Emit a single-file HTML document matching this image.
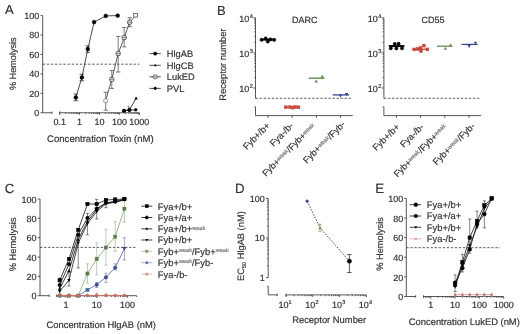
<!DOCTYPE html>
<html><head><meta charset="utf-8"><style>
html,body{margin:0;padding:0;background:#fff;}
svg{display:block;will-change:transform;filter:blur(0.35px);}
text{font-family:"Liberation Sans", sans-serif;text-rendering:geometricPrecision;stroke:#333;stroke-width:0.18px;}
</style></head><body>
<svg width="520" height="334" viewBox="0 0 520 334" font-family='"Liberation Sans", sans-serif'>
<rect width="520" height="334" fill="#fff"/>
<text x="5.00" y="14.30" font-size="13" text-anchor="start" fill="#333">A</text>
<line x1="42.70" y1="15.60" x2="42.70" y2="112.75" stroke="#444" stroke-width="0.9"/>
<line x1="40.50" y1="112.75" x2="42.70" y2="112.75" stroke="#444" stroke-width="0.9"/>
<text x="39.20" y="115.95" font-size="9" text-anchor="end" fill="#333">0</text>
<line x1="40.50" y1="93.32" x2="42.70" y2="93.32" stroke="#444" stroke-width="0.9"/>
<text x="39.20" y="96.52" font-size="9" text-anchor="end" fill="#333">20</text>
<line x1="40.50" y1="73.89" x2="42.70" y2="73.89" stroke="#444" stroke-width="0.9"/>
<text x="39.20" y="77.09" font-size="9" text-anchor="end" fill="#333">40</text>
<line x1="40.50" y1="54.46" x2="42.70" y2="54.46" stroke="#444" stroke-width="0.9"/>
<text x="39.20" y="57.66" font-size="9" text-anchor="end" fill="#333">60</text>
<line x1="40.50" y1="35.03" x2="42.70" y2="35.03" stroke="#444" stroke-width="0.9"/>
<text x="39.20" y="38.23" font-size="9" text-anchor="end" fill="#333">80</text>
<line x1="40.50" y1="15.60" x2="42.70" y2="15.60" stroke="#444" stroke-width="0.9"/>
<text x="39.20" y="18.80" font-size="9" text-anchor="end" fill="#333">100</text>
<line x1="42.70" y1="112.75" x2="52.00" y2="112.75" stroke="#444" stroke-width="0.9"/>
<line x1="52.00" y1="111.55" x2="52.00" y2="113.95" stroke="#444" stroke-width="0.9"/>
<line x1="59.70" y1="112.75" x2="139.30" y2="112.75" stroke="#444" stroke-width="0.9"/>
<line x1="59.70" y1="111.45" x2="59.70" y2="114.05" stroke="#444" stroke-width="0.9"/>
<line x1="59.70" y1="112.75" x2="59.70" y2="114.95" stroke="#444" stroke-width="0.8"/>
<line x1="65.69" y1="112.75" x2="65.69" y2="114.05" stroke="#444" stroke-width="0.8"/>
<line x1="69.19" y1="112.75" x2="69.19" y2="114.05" stroke="#444" stroke-width="0.8"/>
<line x1="71.68" y1="112.75" x2="71.68" y2="114.05" stroke="#444" stroke-width="0.8"/>
<line x1="73.61" y1="112.75" x2="73.61" y2="114.05" stroke="#444" stroke-width="0.8"/>
<line x1="75.19" y1="112.75" x2="75.19" y2="114.05" stroke="#444" stroke-width="0.8"/>
<line x1="76.52" y1="112.75" x2="76.52" y2="114.05" stroke="#444" stroke-width="0.8"/>
<line x1="77.67" y1="112.75" x2="77.67" y2="114.05" stroke="#444" stroke-width="0.8"/>
<line x1="78.69" y1="112.75" x2="78.69" y2="114.05" stroke="#444" stroke-width="0.8"/>
<line x1="79.60" y1="112.75" x2="79.60" y2="114.95" stroke="#444" stroke-width="0.8"/>
<line x1="85.59" y1="112.75" x2="85.59" y2="114.05" stroke="#444" stroke-width="0.8"/>
<line x1="89.09" y1="112.75" x2="89.09" y2="114.05" stroke="#444" stroke-width="0.8"/>
<line x1="91.58" y1="112.75" x2="91.58" y2="114.05" stroke="#444" stroke-width="0.8"/>
<line x1="93.51" y1="112.75" x2="93.51" y2="114.05" stroke="#444" stroke-width="0.8"/>
<line x1="95.09" y1="112.75" x2="95.09" y2="114.05" stroke="#444" stroke-width="0.8"/>
<line x1="96.42" y1="112.75" x2="96.42" y2="114.05" stroke="#444" stroke-width="0.8"/>
<line x1="97.57" y1="112.75" x2="97.57" y2="114.05" stroke="#444" stroke-width="0.8"/>
<line x1="98.59" y1="112.75" x2="98.59" y2="114.05" stroke="#444" stroke-width="0.8"/>
<line x1="99.50" y1="112.75" x2="99.50" y2="114.95" stroke="#444" stroke-width="0.8"/>
<line x1="105.49" y1="112.75" x2="105.49" y2="114.05" stroke="#444" stroke-width="0.8"/>
<line x1="108.99" y1="112.75" x2="108.99" y2="114.05" stroke="#444" stroke-width="0.8"/>
<line x1="111.48" y1="112.75" x2="111.48" y2="114.05" stroke="#444" stroke-width="0.8"/>
<line x1="113.41" y1="112.75" x2="113.41" y2="114.05" stroke="#444" stroke-width="0.8"/>
<line x1="114.99" y1="112.75" x2="114.99" y2="114.05" stroke="#444" stroke-width="0.8"/>
<line x1="116.32" y1="112.75" x2="116.32" y2="114.05" stroke="#444" stroke-width="0.8"/>
<line x1="117.47" y1="112.75" x2="117.47" y2="114.05" stroke="#444" stroke-width="0.8"/>
<line x1="118.49" y1="112.75" x2="118.49" y2="114.05" stroke="#444" stroke-width="0.8"/>
<line x1="119.40" y1="112.75" x2="119.40" y2="114.95" stroke="#444" stroke-width="0.8"/>
<line x1="125.39" y1="112.75" x2="125.39" y2="114.05" stroke="#444" stroke-width="0.8"/>
<line x1="128.89" y1="112.75" x2="128.89" y2="114.05" stroke="#444" stroke-width="0.8"/>
<line x1="131.38" y1="112.75" x2="131.38" y2="114.05" stroke="#444" stroke-width="0.8"/>
<line x1="133.31" y1="112.75" x2="133.31" y2="114.05" stroke="#444" stroke-width="0.8"/>
<line x1="134.89" y1="112.75" x2="134.89" y2="114.05" stroke="#444" stroke-width="0.8"/>
<line x1="136.22" y1="112.75" x2="136.22" y2="114.05" stroke="#444" stroke-width="0.8"/>
<line x1="137.37" y1="112.75" x2="137.37" y2="114.05" stroke="#444" stroke-width="0.8"/>
<line x1="138.39" y1="112.75" x2="138.39" y2="114.05" stroke="#444" stroke-width="0.8"/>
<line x1="139.30" y1="112.75" x2="139.30" y2="114.95" stroke="#444" stroke-width="0.8"/>
<line x1="139.30" y1="112.75" x2="139.30" y2="114.95" stroke="#444" stroke-width="0.8"/>
<text x="59.70" y="125.30" font-size="9" text-anchor="middle" fill="#333">0.1</text>
<text x="79.60" y="125.30" font-size="9" text-anchor="middle" fill="#333">1</text>
<text x="99.50" y="125.30" font-size="9" text-anchor="middle" fill="#333">10</text>
<text x="119.40" y="125.30" font-size="9" text-anchor="middle" fill="#333">100</text>
<text x="139.30" y="125.30" font-size="9" text-anchor="middle" fill="#333">1000</text>
<text x="47.10" y="141.60" font-size="9.55" text-anchor="start" fill="#333">Concentration Toxin (nM)</text>
<text x="15.60" y="63.70" font-size="9.15" text-anchor="middle" fill="#333" transform="rotate(-90 15.60 63.70)">% Hemolysis</text>
<line x1="42.70" y1="64.20" x2="139.30" y2="64.20" stroke="#333" stroke-width="0.8" stroke-dasharray="2.4,1.73"/>
<line x1="75.80" y1="94.00" x2="75.80" y2="100.80" stroke="#222" stroke-width="0.7"/>
<line x1="73.50" y1="94.00" x2="78.10" y2="94.00" stroke="#222" stroke-width="0.7"/>
<line x1="73.50" y1="100.80" x2="78.10" y2="100.80" stroke="#222" stroke-width="0.7"/>
<line x1="81.90" y1="74.20" x2="81.90" y2="80.80" stroke="#222" stroke-width="0.7"/>
<line x1="79.60" y1="74.20" x2="84.20" y2="74.20" stroke="#222" stroke-width="0.7"/>
<line x1="79.60" y1="80.80" x2="84.20" y2="80.80" stroke="#222" stroke-width="0.7"/>
<line x1="87.80" y1="45.80" x2="87.80" y2="52.30" stroke="#222" stroke-width="0.7"/>
<line x1="85.50" y1="45.80" x2="90.10" y2="45.80" stroke="#222" stroke-width="0.7"/>
<line x1="85.50" y1="52.30" x2="90.10" y2="52.30" stroke="#222" stroke-width="0.7"/>
<polyline points="75.80,97.50 81.90,77.40 87.80,49.00 94.10,22.10 105.80,15.90 117.70,15.60" fill="none" stroke="#222" stroke-width="0.8"/>
<circle cx="75.80" cy="97.50" r="1.9" fill="#000" stroke="#000" stroke-width="0.5"/>
<circle cx="81.90" cy="77.40" r="1.9" fill="#000" stroke="#000" stroke-width="0.5"/>
<circle cx="87.80" cy="49.00" r="1.9" fill="#000" stroke="#000" stroke-width="0.5"/>
<circle cx="94.10" cy="22.10" r="1.9" fill="#000" stroke="#000" stroke-width="0.5"/>
<circle cx="105.80" cy="15.90" r="1.9" fill="#000" stroke="#000" stroke-width="0.5"/>
<circle cx="117.70" cy="15.60" r="1.9" fill="#000" stroke="#000" stroke-width="0.5"/>
<line x1="105.70" y1="92.20" x2="105.70" y2="110.20" stroke="#444" stroke-width="0.7"/>
<line x1="103.50" y1="92.20" x2="107.90" y2="92.20" stroke="#444" stroke-width="0.7"/>
<line x1="103.50" y1="110.20" x2="107.90" y2="110.20" stroke="#444" stroke-width="0.7"/>
<line x1="111.80" y1="70.40" x2="111.80" y2="88.40" stroke="#444" stroke-width="0.7"/>
<line x1="109.60" y1="70.40" x2="114.00" y2="70.40" stroke="#444" stroke-width="0.7"/>
<line x1="109.60" y1="88.40" x2="114.00" y2="88.40" stroke="#444" stroke-width="0.7"/>
<line x1="118.20" y1="36.40" x2="118.20" y2="72.00" stroke="#444" stroke-width="0.7"/>
<line x1="116.00" y1="36.40" x2="120.40" y2="36.40" stroke="#444" stroke-width="0.7"/>
<line x1="116.00" y1="72.00" x2="120.40" y2="72.00" stroke="#444" stroke-width="0.7"/>
<line x1="124.20" y1="27.50" x2="124.20" y2="46.90" stroke="#444" stroke-width="0.7"/>
<line x1="122.00" y1="27.50" x2="126.40" y2="27.50" stroke="#444" stroke-width="0.7"/>
<line x1="122.00" y1="46.90" x2="126.40" y2="46.90" stroke="#444" stroke-width="0.7"/>
<line x1="129.70" y1="17.70" x2="129.70" y2="26.70" stroke="#444" stroke-width="0.7"/>
<line x1="127.50" y1="17.70" x2="131.90" y2="17.70" stroke="#444" stroke-width="0.7"/>
<line x1="127.50" y1="26.70" x2="131.90" y2="26.70" stroke="#444" stroke-width="0.7"/>
<polyline points="105.70,100.70 111.80,79.40 118.20,53.50 124.20,37.60 129.70,22.20 135.70,15.20" fill="none" stroke="#333" stroke-width="0.8"/>
<circle cx="105.70" cy="100.70" r="2.1" fill="#fff" stroke="#333" stroke-width="0.5"/>
<rect x="109.70" y="77.30" width="4.2" height="4.2" rx="1.3" fill="#e4e4e4" stroke="#333" stroke-width="0.75"/>
<line x1="110.20" y1="79.40" x2="113.40" y2="79.40" stroke="#444" stroke-width="0.6"/>
<rect x="116.10" y="51.40" width="4.2" height="4.2" rx="1.3" fill="#e4e4e4" stroke="#333" stroke-width="0.75"/>
<line x1="116.60" y1="53.50" x2="119.80" y2="53.50" stroke="#444" stroke-width="0.6"/>
<rect x="122.10" y="35.50" width="4.2" height="4.2" rx="1.3" fill="#e4e4e4" stroke="#333" stroke-width="0.75"/>
<line x1="122.60" y1="37.60" x2="125.80" y2="37.60" stroke="#444" stroke-width="0.6"/>
<rect x="127.60" y="20.10" width="4.2" height="4.2" rx="1.3" fill="#e4e4e4" stroke="#333" stroke-width="0.75"/>
<line x1="128.10" y1="22.20" x2="131.30" y2="22.20" stroke="#444" stroke-width="0.6"/>
<rect x="133.80" y="13.30" width="3.8" height="3.8" fill="#fff" stroke="#333" stroke-width="0.7"/>
<polyline points="124.00,110.90 129.40,109.80 136.10,98.30" fill="none" stroke="#111" stroke-width="0.8"/>
<line x1="128.50" y1="106.20" x2="128.50" y2="110.50" stroke="#333" stroke-width="0.5"/>
<line x1="127.30" y1="106.20" x2="129.70" y2="106.20" stroke="#333" stroke-width="0.5"/>
<line x1="127.30" y1="110.50" x2="129.70" y2="110.50" stroke="#333" stroke-width="0.5"/>
<polygon points="124.00,109.06 122.30,112.12 125.70,112.12" fill="#000"/>
<polygon points="129.40,107.96 127.70,111.02 131.10,111.02" fill="#000"/>
<polygon points="136.10,96.46 134.40,99.52 137.80,99.52" fill="#000"/>
<polyline points="124.00,110.70 129.40,110.20 135.80,109.80" fill="none" stroke="#111" stroke-width="0.8"/>
<circle cx="124.00" cy="110.70" r="1.4" fill="#000" stroke="#000" stroke-width="0.5"/>
<circle cx="129.40" cy="110.20" r="1.4" fill="#000" stroke="#000" stroke-width="0.5"/>
<circle cx="135.80" cy="109.80" r="1.4" fill="#000" stroke="#000" stroke-width="0.5"/>
<circle cx="124.00" cy="110.70" r="1.7" fill="#000" stroke="#000" stroke-width="0.5"/>
<circle cx="129.40" cy="109.90" r="1.7" fill="#000" stroke="#000" stroke-width="0.5"/>
<line x1="149.50" y1="53.60" x2="160.80" y2="53.60" stroke="#222" stroke-width="0.8"/>
<circle cx="155.20" cy="53.60" r="1.7" fill="#000" stroke="#000" stroke-width="0.5"/>
<text x="166.80" y="56.90" font-size="9.3" text-anchor="start" fill="#333">HlgAB</text>
<line x1="149.50" y1="65.30" x2="160.80" y2="65.30" stroke="#222" stroke-width="0.8"/>
<polygon points="155.20,63.79 153.80,66.31 156.60,66.31" fill="#000"/>
<text x="166.80" y="68.60" font-size="9.3" text-anchor="start" fill="#333">HlgCB</text>
<line x1="149.50" y1="76.90" x2="160.80" y2="76.90" stroke="#222" stroke-width="0.8"/>
<rect x="153.20" y="74.90" width="4.0" height="4.0" rx="1.2" fill="#ddd" stroke="#333" stroke-width="0.6"/>
<line x1="153.70" y1="76.90" x2="156.70" y2="76.90" stroke="#444" stroke-width="0.5"/>
<text x="166.80" y="80.20" font-size="9.3" text-anchor="start" fill="#333">LukED</text>
<line x1="149.50" y1="88.40" x2="160.80" y2="88.40" stroke="#222" stroke-width="0.8"/>
<circle cx="155.20" cy="88.40" r="1.3" fill="#000" stroke="#000" stroke-width="0.5"/>
<text x="166.80" y="91.70" font-size="9.3" text-anchor="start" fill="#333">PVL</text>
<text x="216.90" y="14.50" font-size="13" text-anchor="start" fill="#333">B</text>
<text x="226.50" y="64.60" font-size="9.4" text-anchor="middle" fill="#333" transform="rotate(-90 226.50 64.60)">Receptor number</text>
<line x1="255.50" y1="17.80" x2="255.50" y2="98.30" stroke="#444" stroke-width="0.9"/>
<line x1="253.30" y1="17.80" x2="255.50" y2="17.80" stroke="#444" stroke-width="0.9"/>
<text x="249.30" y="22.10" font-size="9" text-anchor="end" fill="#333">10</text>
<text x="249.80" y="17.60" font-size="5.6" text-anchor="start" fill="#333">4</text>
<line x1="253.30" y1="52.90" x2="255.50" y2="52.90" stroke="#444" stroke-width="0.9"/>
<text x="249.30" y="57.20" font-size="9" text-anchor="end" fill="#333">10</text>
<text x="249.80" y="52.70" font-size="5.6" text-anchor="start" fill="#333">3</text>
<line x1="253.30" y1="88.00" x2="255.50" y2="88.00" stroke="#444" stroke-width="0.9"/>
<text x="249.30" y="92.30" font-size="9" text-anchor="end" fill="#333">10</text>
<text x="249.80" y="87.80" font-size="5.6" text-anchor="start" fill="#333">2</text>
<line x1="254.20" y1="42.33" x2="255.50" y2="42.33" stroke="#444" stroke-width="0.8"/>
<line x1="254.20" y1="36.15" x2="255.50" y2="36.15" stroke="#444" stroke-width="0.8"/>
<line x1="254.20" y1="31.77" x2="255.50" y2="31.77" stroke="#444" stroke-width="0.8"/>
<line x1="254.20" y1="28.37" x2="255.50" y2="28.37" stroke="#444" stroke-width="0.8"/>
<line x1="254.20" y1="25.59" x2="255.50" y2="25.59" stroke="#444" stroke-width="0.8"/>
<line x1="254.20" y1="23.24" x2="255.50" y2="23.24" stroke="#444" stroke-width="0.8"/>
<line x1="254.20" y1="21.20" x2="255.50" y2="21.20" stroke="#444" stroke-width="0.8"/>
<line x1="254.20" y1="19.41" x2="255.50" y2="19.41" stroke="#444" stroke-width="0.8"/>
<line x1="254.20" y1="77.43" x2="255.50" y2="77.43" stroke="#444" stroke-width="0.8"/>
<line x1="254.20" y1="71.25" x2="255.50" y2="71.25" stroke="#444" stroke-width="0.8"/>
<line x1="254.20" y1="66.87" x2="255.50" y2="66.87" stroke="#444" stroke-width="0.8"/>
<line x1="254.20" y1="63.47" x2="255.50" y2="63.47" stroke="#444" stroke-width="0.8"/>
<line x1="254.20" y1="60.69" x2="255.50" y2="60.69" stroke="#444" stroke-width="0.8"/>
<line x1="254.20" y1="58.34" x2="255.50" y2="58.34" stroke="#444" stroke-width="0.8"/>
<line x1="254.20" y1="56.30" x2="255.50" y2="56.30" stroke="#444" stroke-width="0.8"/>
<line x1="254.20" y1="54.51" x2="255.50" y2="54.51" stroke="#444" stroke-width="0.8"/>
<line x1="255.50" y1="106.80" x2="255.50" y2="115.60" stroke="#444" stroke-width="0.9"/>
<line x1="254.20" y1="106.80" x2="255.50" y2="106.80" stroke="#444" stroke-width="0.8"/>
<line x1="255.50" y1="115.60" x2="352.70" y2="115.60" stroke="#444" stroke-width="0.9"/>
<line x1="268.00" y1="115.60" x2="268.00" y2="117.80" stroke="#444" stroke-width="0.9"/>
<line x1="292.20" y1="115.60" x2="292.20" y2="117.80" stroke="#444" stroke-width="0.9"/>
<line x1="316.40" y1="115.60" x2="316.40" y2="117.80" stroke="#444" stroke-width="0.9"/>
<line x1="340.60" y1="115.60" x2="340.60" y2="117.80" stroke="#444" stroke-width="0.9"/>
<line x1="255.50" y1="98.30" x2="352.70" y2="98.30" stroke="#333" stroke-width="0.8" stroke-dasharray="2.35,1.7"/>
<text x="292.10" y="22.90" font-size="9" text-anchor="start" fill="#333">DARC</text>
<text x="270.60" y="126.30" font-size="9.2" text-anchor="end" fill="#333" transform="rotate(-45 270.60 126.30)">Fyb+/b+</text>
<text x="294.00" y="126.30" font-size="9.2" text-anchor="end" fill="#333" transform="rotate(-45 294.00 126.30)">Fya-/b-</text>
<text x="316.10" y="126.80" font-size="9.2" text-anchor="end" fill="#333" transform="rotate(-45 316.10 126.80)">Fyb+<tspan font-size="5.8" dy="-2.0" fill="#777" stroke="#777">weak</tspan><tspan dy="2.0">/Fyb+</tspan><tspan font-size="5.8" dy="-2.0" fill="#777" stroke="#777">weak</tspan></text>
<text x="345.70" y="124.90" font-size="9.2" text-anchor="end" fill="#333" transform="rotate(-45 345.70 124.90)">Fyb+<tspan font-size="5.8" dy="-2.0" fill="#777" stroke="#777">weak</tspan><tspan dy="2.0">/Fyb-</tspan></text>
<line x1="260.60" y1="39.60" x2="275.40" y2="39.60" stroke="#000" stroke-width="2.0"/>
<circle cx="261.60" cy="39.80" r="1.6" fill="#000" stroke="#000" stroke-width="0.5"/>
<circle cx="265.70" cy="38.40" r="1.6" fill="#000" stroke="#000" stroke-width="0.5"/>
<circle cx="267.80" cy="41.60" r="1.6" fill="#000" stroke="#000" stroke-width="0.5"/>
<circle cx="270.50" cy="39.40" r="1.6" fill="#000" stroke="#000" stroke-width="0.5"/>
<circle cx="274.20" cy="39.90" r="1.6" fill="#000" stroke="#000" stroke-width="0.5"/>
<line x1="285.00" y1="107.30" x2="299.60" y2="107.30" stroke="#cc4a3c" stroke-width="1.3"/>
<rect x="284.35" y="105.75" width="2.9" height="2.9" fill="#cc4a3c" stroke="#cc4a3c" stroke-width="0.5"/>
<rect x="288.55" y="105.75" width="2.9" height="2.9" fill="#cc4a3c" stroke="#cc4a3c" stroke-width="0.5"/>
<rect x="291.15" y="106.15" width="2.9" height="2.9" fill="#cc4a3c" stroke="#cc4a3c" stroke-width="0.5"/>
<rect x="293.75" y="105.55" width="2.9" height="2.9" fill="#cc4a3c" stroke="#cc4a3c" stroke-width="0.5"/>
<rect x="296.95" y="105.85" width="2.9" height="2.9" fill="#cc4a3c" stroke="#cc4a3c" stroke-width="0.5"/>
<line x1="308.60" y1="78.20" x2="324.60" y2="78.20" stroke="#5a8445" stroke-width="1.3"/>
<polygon points="322.20,74.82 320.55,77.79 323.85,77.79" fill="#5a8445"/>
<polygon points="316.20,79.62 314.55,82.59 317.85,82.59" fill="#5a8445"/>
<line x1="332.80" y1="94.90" x2="349.20" y2="94.90" stroke="#3d4590" stroke-width="1.3"/>
<polygon points="346.50,95.98 344.85,93.01 348.15,93.01" fill="#3d4590"/>
<polygon points="340.40,97.58 338.75,94.61 342.05,94.61" fill="#3d4590"/>
<line x1="383.90" y1="17.80" x2="383.90" y2="98.30" stroke="#444" stroke-width="0.9"/>
<line x1="381.70" y1="17.80" x2="383.90" y2="17.80" stroke="#444" stroke-width="0.9"/>
<text x="377.70" y="22.10" font-size="9" text-anchor="end" fill="#333">10</text>
<text x="378.20" y="17.60" font-size="5.6" text-anchor="start" fill="#333">4</text>
<line x1="381.70" y1="52.90" x2="383.90" y2="52.90" stroke="#444" stroke-width="0.9"/>
<text x="377.70" y="57.20" font-size="9" text-anchor="end" fill="#333">10</text>
<text x="378.20" y="52.70" font-size="5.6" text-anchor="start" fill="#333">3</text>
<line x1="381.70" y1="88.00" x2="383.90" y2="88.00" stroke="#444" stroke-width="0.9"/>
<text x="377.70" y="92.30" font-size="9" text-anchor="end" fill="#333">10</text>
<text x="378.20" y="87.80" font-size="5.6" text-anchor="start" fill="#333">2</text>
<line x1="382.60" y1="42.33" x2="383.90" y2="42.33" stroke="#444" stroke-width="0.8"/>
<line x1="382.60" y1="36.15" x2="383.90" y2="36.15" stroke="#444" stroke-width="0.8"/>
<line x1="382.60" y1="31.77" x2="383.90" y2="31.77" stroke="#444" stroke-width="0.8"/>
<line x1="382.60" y1="28.37" x2="383.90" y2="28.37" stroke="#444" stroke-width="0.8"/>
<line x1="382.60" y1="25.59" x2="383.90" y2="25.59" stroke="#444" stroke-width="0.8"/>
<line x1="382.60" y1="23.24" x2="383.90" y2="23.24" stroke="#444" stroke-width="0.8"/>
<line x1="382.60" y1="21.20" x2="383.90" y2="21.20" stroke="#444" stroke-width="0.8"/>
<line x1="382.60" y1="19.41" x2="383.90" y2="19.41" stroke="#444" stroke-width="0.8"/>
<line x1="382.60" y1="77.43" x2="383.90" y2="77.43" stroke="#444" stroke-width="0.8"/>
<line x1="382.60" y1="71.25" x2="383.90" y2="71.25" stroke="#444" stroke-width="0.8"/>
<line x1="382.60" y1="66.87" x2="383.90" y2="66.87" stroke="#444" stroke-width="0.8"/>
<line x1="382.60" y1="63.47" x2="383.90" y2="63.47" stroke="#444" stroke-width="0.8"/>
<line x1="382.60" y1="60.69" x2="383.90" y2="60.69" stroke="#444" stroke-width="0.8"/>
<line x1="382.60" y1="58.34" x2="383.90" y2="58.34" stroke="#444" stroke-width="0.8"/>
<line x1="382.60" y1="56.30" x2="383.90" y2="56.30" stroke="#444" stroke-width="0.8"/>
<line x1="382.60" y1="54.51" x2="383.90" y2="54.51" stroke="#444" stroke-width="0.8"/>
<line x1="383.90" y1="106.80" x2="383.90" y2="115.60" stroke="#444" stroke-width="0.9"/>
<line x1="382.60" y1="106.80" x2="383.90" y2="106.80" stroke="#444" stroke-width="0.8"/>
<line x1="383.90" y1="115.60" x2="481.20" y2="115.60" stroke="#444" stroke-width="0.9"/>
<line x1="396.40" y1="115.60" x2="396.40" y2="117.80" stroke="#444" stroke-width="0.9"/>
<line x1="420.60" y1="115.60" x2="420.60" y2="117.80" stroke="#444" stroke-width="0.9"/>
<line x1="444.80" y1="115.60" x2="444.80" y2="117.80" stroke="#444" stroke-width="0.9"/>
<line x1="469.00" y1="115.60" x2="469.00" y2="117.80" stroke="#444" stroke-width="0.9"/>
<line x1="383.90" y1="98.30" x2="481.20" y2="98.30" stroke="#333" stroke-width="0.8" stroke-dasharray="2.35,1.7"/>
<text x="421.60" y="22.90" font-size="9" text-anchor="start" fill="#333">CD55</text>
<text x="400.20" y="127.50" font-size="9.2" text-anchor="end" fill="#333" transform="rotate(-45 400.20 127.50)">Fyb+/b+</text>
<text x="424.40" y="127.50" font-size="9.2" text-anchor="end" fill="#333" transform="rotate(-45 424.40 127.50)">Fya-/b-</text>
<text x="447.60" y="127.50" font-size="9.2" text-anchor="end" fill="#333" transform="rotate(-45 447.60 127.50)">Fyb+<tspan font-size="5.8" dy="-2.0" fill="#777" stroke="#777">weak</tspan><tspan dy="2.0">/Fyb+</tspan><tspan font-size="5.8" dy="-2.0" fill="#777" stroke="#777">weak</tspan></text>
<text x="475.60" y="126.60" font-size="9.2" text-anchor="end" fill="#333" transform="rotate(-45 475.60 126.60)">Fyb+<tspan font-size="5.8" dy="-2.0" fill="#777" stroke="#777">weak</tspan><tspan dy="2.0">/Fyb-</tspan></text>
<line x1="388.80" y1="46.10" x2="404.40" y2="46.10" stroke="#000" stroke-width="2.0"/>
<circle cx="394.80" cy="43.90" r="1.6" fill="#000" stroke="#000" stroke-width="0.5"/>
<circle cx="398.60" cy="43.70" r="1.6" fill="#000" stroke="#000" stroke-width="0.5"/>
<circle cx="390.80" cy="48.30" r="1.6" fill="#000" stroke="#000" stroke-width="0.5"/>
<circle cx="396.40" cy="48.40" r="1.6" fill="#000" stroke="#000" stroke-width="0.5"/>
<circle cx="402.00" cy="48.30" r="1.6" fill="#000" stroke="#000" stroke-width="0.5"/>
<line x1="413.00" y1="49.20" x2="428.50" y2="49.20" stroke="#c8453a" stroke-width="1.3"/>
<rect x="412.75" y="47.95" width="2.9" height="2.9" fill="#c8453a" stroke="#c8453a" stroke-width="0.5"/>
<rect x="416.45" y="47.55" width="2.9" height="2.9" fill="#c8453a" stroke="#c8453a" stroke-width="0.5"/>
<rect x="422.35" y="44.15" width="2.9" height="2.9" fill="#c8453a" stroke="#c8453a" stroke-width="0.5"/>
<rect x="419.55" y="49.55" width="2.9" height="2.9" fill="#c8453a" stroke="#c8453a" stroke-width="0.5"/>
<rect x="425.95" y="47.95" width="2.9" height="2.9" fill="#c8453a" stroke="#c8453a" stroke-width="0.5"/>
<rect x="419.05" y="46.55" width="2.9" height="2.9" fill="#c8453a" stroke="#c8453a" stroke-width="0.5"/>
<line x1="437.00" y1="46.20" x2="452.30" y2="46.20" stroke="#6a8a55" stroke-width="1.3"/>
<polygon points="450.60,43.22 448.95,46.19 452.25,46.19" fill="#6a8a55"/>
<polygon points="445.40,46.82 443.75,49.79 447.05,49.79" fill="#6a8a55"/>
<line x1="461.50" y1="44.40" x2="477.70" y2="44.40" stroke="#3d4590" stroke-width="1.3"/>
<polygon points="475.40,44.78 473.75,41.81 477.05,41.81" fill="#3d4590"/>
<polygon points="469.20,47.98 467.55,45.01 470.85,45.01" fill="#3d4590"/>
<text x="4.70" y="193.00" font-size="13.3" text-anchor="start" fill="#333">C</text>
<line x1="40.00" y1="199.00" x2="40.00" y2="295.70" stroke="#444" stroke-width="0.9"/>
<line x1="37.80" y1="295.70" x2="40.00" y2="295.70" stroke="#444" stroke-width="0.9"/>
<text x="36.50" y="299.30" font-size="9" text-anchor="end" fill="#333">0</text>
<line x1="37.80" y1="276.36" x2="40.00" y2="276.36" stroke="#444" stroke-width="0.9"/>
<text x="36.50" y="279.96" font-size="9" text-anchor="end" fill="#333">20</text>
<line x1="37.80" y1="257.02" x2="40.00" y2="257.02" stroke="#444" stroke-width="0.9"/>
<text x="36.50" y="260.62" font-size="9" text-anchor="end" fill="#333">40</text>
<line x1="37.80" y1="237.68" x2="40.00" y2="237.68" stroke="#444" stroke-width="0.9"/>
<text x="36.50" y="241.28" font-size="9" text-anchor="end" fill="#333">60</text>
<line x1="37.80" y1="218.34" x2="40.00" y2="218.34" stroke="#444" stroke-width="0.9"/>
<text x="36.50" y="221.94" font-size="9" text-anchor="end" fill="#333">80</text>
<line x1="37.80" y1="199.00" x2="40.00" y2="199.00" stroke="#444" stroke-width="0.9"/>
<text x="36.50" y="202.60" font-size="9" text-anchor="end" fill="#333">100</text>
<line x1="40.00" y1="295.70" x2="49.20" y2="295.70" stroke="#444" stroke-width="0.9"/>
<line x1="49.20" y1="294.50" x2="49.20" y2="296.90" stroke="#444" stroke-width="0.9"/>
<line x1="56.76" y1="295.70" x2="136.64" y2="295.70" stroke="#444" stroke-width="0.9"/>
<line x1="56.76" y1="294.50" x2="56.76" y2="296.90" stroke="#444" stroke-width="0.9"/>
<line x1="56.76" y1="295.70" x2="56.76" y2="297.00" stroke="#444" stroke-width="0.8"/>
<line x1="59.19" y1="295.70" x2="59.19" y2="297.00" stroke="#444" stroke-width="0.8"/>
<line x1="61.24" y1="295.70" x2="61.24" y2="297.00" stroke="#444" stroke-width="0.8"/>
<line x1="63.02" y1="295.70" x2="63.02" y2="297.00" stroke="#444" stroke-width="0.8"/>
<line x1="64.60" y1="295.70" x2="64.60" y2="297.00" stroke="#444" stroke-width="0.8"/>
<line x1="66.00" y1="295.70" x2="66.00" y2="297.90" stroke="#444" stroke-width="0.8"/>
<line x1="75.24" y1="295.70" x2="75.24" y2="297.00" stroke="#444" stroke-width="0.8"/>
<line x1="80.65" y1="295.70" x2="80.65" y2="297.00" stroke="#444" stroke-width="0.8"/>
<line x1="84.48" y1="295.70" x2="84.48" y2="297.00" stroke="#444" stroke-width="0.8"/>
<line x1="87.46" y1="295.70" x2="87.46" y2="297.00" stroke="#444" stroke-width="0.8"/>
<line x1="89.89" y1="295.70" x2="89.89" y2="297.00" stroke="#444" stroke-width="0.8"/>
<line x1="91.94" y1="295.70" x2="91.94" y2="297.00" stroke="#444" stroke-width="0.8"/>
<line x1="93.72" y1="295.70" x2="93.72" y2="297.00" stroke="#444" stroke-width="0.8"/>
<line x1="95.30" y1="295.70" x2="95.30" y2="297.00" stroke="#444" stroke-width="0.8"/>
<line x1="96.70" y1="295.70" x2="96.70" y2="297.90" stroke="#444" stroke-width="0.8"/>
<line x1="105.94" y1="295.70" x2="105.94" y2="297.00" stroke="#444" stroke-width="0.8"/>
<line x1="111.35" y1="295.70" x2="111.35" y2="297.00" stroke="#444" stroke-width="0.8"/>
<line x1="115.18" y1="295.70" x2="115.18" y2="297.00" stroke="#444" stroke-width="0.8"/>
<line x1="118.16" y1="295.70" x2="118.16" y2="297.00" stroke="#444" stroke-width="0.8"/>
<line x1="120.59" y1="295.70" x2="120.59" y2="297.00" stroke="#444" stroke-width="0.8"/>
<line x1="122.64" y1="295.70" x2="122.64" y2="297.00" stroke="#444" stroke-width="0.8"/>
<line x1="124.42" y1="295.70" x2="124.42" y2="297.00" stroke="#444" stroke-width="0.8"/>
<line x1="126.00" y1="295.70" x2="126.00" y2="297.00" stroke="#444" stroke-width="0.8"/>
<line x1="127.40" y1="295.70" x2="127.40" y2="297.90" stroke="#444" stroke-width="0.8"/>
<line x1="136.64" y1="295.70" x2="136.64" y2="297.00" stroke="#444" stroke-width="0.8"/>
<text x="66.00" y="307.60" font-size="9" text-anchor="middle" fill="#333">1</text>
<text x="96.70" y="307.60" font-size="9" text-anchor="middle" fill="#333">10</text>
<text x="127.40" y="307.60" font-size="9" text-anchor="middle" fill="#333">100</text>
<text x="46.50" y="328.00" font-size="9.4" text-anchor="start" fill="#333">Concentration HlgAB (nM)</text>
<text x="16.00" y="244.40" font-size="9.33" text-anchor="middle" fill="#333" transform="rotate(-90 16.00 244.40)">% Hemolysis</text>
<line x1="40.00" y1="247.40" x2="136.50" y2="247.40" stroke="#333" stroke-width="0.8" stroke-dasharray="2.35,1.7"/>
<line x1="96.70" y1="242.81" x2="96.70" y2="274.72" stroke="#98a88a" stroke-width="0.6"/>
<line x1="95.10" y1="242.81" x2="98.30" y2="242.81" stroke="#98a88a" stroke-width="0.6"/>
<line x1="95.10" y1="274.72" x2="98.30" y2="274.72" stroke="#98a88a" stroke-width="0.6"/>
<line x1="105.94" y1="229.17" x2="105.94" y2="265.14" stroke="#98a88a" stroke-width="0.6"/>
<line x1="104.34" y1="229.17" x2="107.54" y2="229.17" stroke="#98a88a" stroke-width="0.6"/>
<line x1="104.34" y1="265.14" x2="107.54" y2="265.14" stroke="#98a88a" stroke-width="0.6"/>
<line x1="115.18" y1="221.63" x2="115.18" y2="251.22" stroke="#98a88a" stroke-width="0.6"/>
<line x1="113.58" y1="221.63" x2="116.78" y2="221.63" stroke="#98a88a" stroke-width="0.6"/>
<line x1="113.58" y1="251.22" x2="116.78" y2="251.22" stroke="#98a88a" stroke-width="0.6"/>
<line x1="124.42" y1="199.00" x2="124.42" y2="222.21" stroke="#98a88a" stroke-width="0.6"/>
<line x1="122.82" y1="199.00" x2="126.02" y2="199.00" stroke="#98a88a" stroke-width="0.6"/>
<line x1="122.82" y1="222.21" x2="126.02" y2="222.21" stroke="#98a88a" stroke-width="0.6"/>
<line x1="87.46" y1="263.79" x2="87.46" y2="283.13" stroke="#98a88a" stroke-width="0.6"/>
<line x1="85.86" y1="263.79" x2="89.06" y2="263.79" stroke="#98a88a" stroke-width="0.6"/>
<line x1="85.86" y1="283.13" x2="89.06" y2="283.13" stroke="#98a88a" stroke-width="0.6"/>
<line x1="96.70" y1="282.45" x2="96.70" y2="287.48" stroke="#6a72a8" stroke-width="0.6"/>
<line x1="95.10" y1="282.45" x2="98.30" y2="282.45" stroke="#6a72a8" stroke-width="0.6"/>
<line x1="95.10" y1="287.48" x2="98.30" y2="287.48" stroke="#6a72a8" stroke-width="0.6"/>
<line x1="105.94" y1="273.17" x2="105.94" y2="282.45" stroke="#6a72a8" stroke-width="0.6"/>
<line x1="104.34" y1="273.17" x2="107.54" y2="273.17" stroke="#6a72a8" stroke-width="0.6"/>
<line x1="104.34" y1="282.45" x2="107.54" y2="282.45" stroke="#6a72a8" stroke-width="0.6"/>
<line x1="115.18" y1="263.79" x2="115.18" y2="269.88" stroke="#6a72a8" stroke-width="0.6"/>
<line x1="113.58" y1="263.79" x2="116.78" y2="263.79" stroke="#6a72a8" stroke-width="0.6"/>
<line x1="113.58" y1="269.88" x2="116.78" y2="269.88" stroke="#6a72a8" stroke-width="0.6"/>
<line x1="124.42" y1="237.68" x2="124.42" y2="259.92" stroke="#6a72a8" stroke-width="0.6"/>
<line x1="122.82" y1="237.68" x2="126.02" y2="237.68" stroke="#6a72a8" stroke-width="0.6"/>
<line x1="122.82" y1="259.92" x2="126.02" y2="259.92" stroke="#6a72a8" stroke-width="0.6"/>
<line x1="87.46" y1="213.50" x2="87.46" y2="234.78" stroke="#333" stroke-width="0.6"/>
<line x1="85.86" y1="213.50" x2="89.06" y2="213.50" stroke="#333" stroke-width="0.6"/>
<line x1="85.86" y1="234.78" x2="89.06" y2="234.78" stroke="#333" stroke-width="0.6"/>
<line x1="96.70" y1="199.39" x2="96.70" y2="218.92" stroke="#333" stroke-width="0.6"/>
<line x1="95.10" y1="199.39" x2="98.30" y2="199.39" stroke="#333" stroke-width="0.6"/>
<line x1="95.10" y1="218.92" x2="98.30" y2="218.92" stroke="#333" stroke-width="0.6"/>
<line x1="78.22" y1="235.75" x2="78.22" y2="267.95" stroke="#333" stroke-width="0.6"/>
<line x1="76.62" y1="235.75" x2="79.82" y2="235.75" stroke="#333" stroke-width="0.6"/>
<line x1="76.62" y1="267.95" x2="79.82" y2="267.95" stroke="#333" stroke-width="0.6"/>
<line x1="68.98" y1="272.49" x2="68.98" y2="286.03" stroke="#333" stroke-width="0.6"/>
<line x1="67.38" y1="272.49" x2="70.58" y2="272.49" stroke="#333" stroke-width="0.6"/>
<line x1="67.38" y1="286.03" x2="70.58" y2="286.03" stroke="#333" stroke-width="0.6"/>
<line x1="59.73" y1="278.29" x2="59.73" y2="294.73" stroke="#333" stroke-width="0.6"/>
<line x1="58.13" y1="278.29" x2="61.33" y2="278.29" stroke="#333" stroke-width="0.6"/>
<line x1="58.13" y1="294.73" x2="61.33" y2="294.73" stroke="#333" stroke-width="0.6"/>
<line x1="105.94" y1="199.97" x2="105.94" y2="207.70" stroke="#333" stroke-width="0.6"/>
<line x1="104.34" y1="199.97" x2="107.54" y2="199.97" stroke="#333" stroke-width="0.6"/>
<line x1="104.34" y1="207.70" x2="107.54" y2="207.70" stroke="#333" stroke-width="0.6"/>
<polyline points="59.73,295.70 68.98,295.70 78.22,295.70 87.46,273.56 96.70,258.95 105.94,247.54 115.18,236.71 124.42,208.67" fill="none" stroke="#86a86c" stroke-width="0.8"/>
<polyline points="59.73,295.70 68.98,295.70 78.22,295.70 87.46,289.90 96.70,284.68 105.94,277.33 115.18,267.66 124.42,248.41" fill="none" stroke="#4a62b0" stroke-width="0.8"/>
<polyline points="59.73,280.23 68.98,258.95 78.22,229.94 87.46,204.03 96.70,204.03 105.94,199.97 115.18,199.48 124.42,199.00" fill="none" stroke="#111" stroke-width="0.8"/>
<polyline points="59.73,285.06 68.98,264.18 78.22,234.78 87.46,217.95 96.70,208.67 105.94,202.87 115.18,201.42 124.42,199.00" fill="none" stroke="#111" stroke-width="0.8"/>
<polyline points="59.73,288.45 68.98,270.75 78.22,239.61 87.46,221.24 96.70,209.64 105.94,202.87 115.18,201.90 124.42,199.48" fill="none" stroke="#111" stroke-width="0.8"/>
<polyline points="59.73,291.25 68.98,280.23 78.22,243.00 87.46,223.56 96.70,211.57 105.94,203.84 115.18,202.38 124.42,199.97" fill="none" stroke="#111" stroke-width="0.8"/>
<rect x="58.13" y="294.10" width="3.2" height="3.2" fill="#5a7d48" stroke="#5a7d48" stroke-width="0.5"/>
<rect x="67.38" y="294.10" width="3.2" height="3.2" fill="#5a7d48" stroke="#5a7d48" stroke-width="0.5"/>
<rect x="76.62" y="294.10" width="3.2" height="3.2" fill="#5a7d48" stroke="#5a7d48" stroke-width="0.5"/>
<rect x="85.86" y="271.96" width="3.2" height="3.2" fill="#5a7d48" stroke="#5a7d48" stroke-width="0.5"/>
<rect x="95.10" y="257.35" width="3.2" height="3.2" fill="#5a7d48" stroke="#5a7d48" stroke-width="0.5"/>
<rect x="104.34" y="245.94" width="3.2" height="3.2" fill="#5a7d48" stroke="#5a7d48" stroke-width="0.5"/>
<rect x="113.58" y="235.11" width="3.2" height="3.2" fill="#5a7d48" stroke="#5a7d48" stroke-width="0.5"/>
<rect x="122.82" y="207.07" width="3.2" height="3.2" fill="#5a7d48" stroke="#5a7d48" stroke-width="0.5"/>
<rect x="85.86" y="288.30" width="3.2" height="3.2" fill="#3a6aa8" stroke="#3a6aa8" stroke-width="0.5"/>
<circle cx="96.70" cy="284.68" r="1.75" fill="#3a4a8a" stroke="#3a4a8a" stroke-width="0.5"/>
<circle cx="105.94" cy="277.33" r="1.75" fill="#3a4a8a" stroke="#3a4a8a" stroke-width="0.5"/>
<circle cx="115.18" cy="267.66" r="1.75" fill="#3a4a8a" stroke="#3a4a8a" stroke-width="0.5"/>
<polygon points="124.42,250.68 122.32,246.90 126.52,246.90" fill="#40468a"/>
<rect x="58.03" y="278.53" width="3.4" height="3.4" fill="#000" stroke="#000" stroke-width="0.5"/>
<rect x="67.28" y="257.25" width="3.4" height="3.4" fill="#000" stroke="#000" stroke-width="0.5"/>
<rect x="76.52" y="228.24" width="3.4" height="3.4" fill="#000" stroke="#000" stroke-width="0.5"/>
<rect x="85.76" y="202.33" width="3.4" height="3.4" fill="#000" stroke="#000" stroke-width="0.5"/>
<rect x="95.00" y="202.33" width="3.4" height="3.4" fill="#000" stroke="#000" stroke-width="0.5"/>
<rect x="104.24" y="198.27" width="3.4" height="3.4" fill="#000" stroke="#000" stroke-width="0.5"/>
<rect x="113.48" y="197.78" width="3.4" height="3.4" fill="#000" stroke="#000" stroke-width="0.5"/>
<rect x="122.72" y="197.30" width="3.4" height="3.4" fill="#000" stroke="#000" stroke-width="0.5"/>
<circle cx="59.73" cy="285.06" r="1.8" fill="#000" stroke="#000" stroke-width="0.5"/>
<circle cx="68.98" cy="264.18" r="1.8" fill="#000" stroke="#000" stroke-width="0.5"/>
<circle cx="78.22" cy="234.78" r="1.8" fill="#000" stroke="#000" stroke-width="0.5"/>
<circle cx="87.46" cy="217.95" r="1.8" fill="#000" stroke="#000" stroke-width="0.5"/>
<circle cx="96.70" cy="208.67" r="1.8" fill="#000" stroke="#000" stroke-width="0.5"/>
<circle cx="105.94" cy="202.87" r="1.8" fill="#000" stroke="#000" stroke-width="0.5"/>
<circle cx="115.18" cy="201.42" r="1.8" fill="#000" stroke="#000" stroke-width="0.5"/>
<circle cx="124.42" cy="199.00" r="1.8" fill="#000" stroke="#000" stroke-width="0.5"/>
<polygon points="59.73,286.61 58.03,289.67 61.43,289.67" fill="#000"/>
<polygon points="68.98,268.92 67.28,271.98 70.68,271.98" fill="#000"/>
<polygon points="78.22,237.78 76.52,240.84 79.92,240.84" fill="#000"/>
<polygon points="87.46,219.40 85.76,222.46 89.16,222.46" fill="#000"/>
<polygon points="96.70,207.80 95.00,210.86 98.40,210.86" fill="#000"/>
<polygon points="105.94,201.03 104.24,204.09 107.64,204.09" fill="#000"/>
<polygon points="115.18,200.06 113.48,203.12 116.88,203.12" fill="#000"/>
<polygon points="124.42,197.65 122.72,200.71 126.12,200.71" fill="#000"/>
<polygon points="59.73,293.09 58.03,290.03 61.43,290.03" fill="#000"/>
<polygon points="68.98,282.06 67.28,279.00 70.68,279.00" fill="#000"/>
<polygon points="78.22,244.83 76.52,241.77 79.92,241.77" fill="#000"/>
<polygon points="87.46,225.40 85.76,222.34 89.16,222.34" fill="#000"/>
<polygon points="96.70,213.41 95.00,210.35 98.40,210.35" fill="#000"/>
<polygon points="105.94,205.67 104.24,202.61 107.64,202.61" fill="#000"/>
<polygon points="115.18,204.22 113.48,201.16 116.88,201.16" fill="#000"/>
<polygon points="124.42,201.80 122.72,198.74 126.12,198.74" fill="#000"/>
<polyline points="59.73,295.41 68.98,295.41 78.22,295.41 87.46,295.41 96.70,295.41 105.94,295.41 115.18,295.41 124.42,295.41" fill="none" stroke="#d0766a" stroke-width="0.9"/>
<circle cx="59.73" cy="295.41" r="1.5" fill="#c8675c" stroke="#c8675c" stroke-width="0.5"/>
<circle cx="68.98" cy="295.41" r="1.5" fill="#c8675c" stroke="#c8675c" stroke-width="0.5"/>
<circle cx="78.22" cy="295.41" r="1.5" fill="#c8675c" stroke="#c8675c" stroke-width="0.5"/>
<circle cx="87.46" cy="295.41" r="1.5" fill="#c8675c" stroke="#c8675c" stroke-width="0.5"/>
<circle cx="96.70" cy="295.41" r="1.5" fill="#c8675c" stroke="#c8675c" stroke-width="0.5"/>
<circle cx="105.94" cy="295.41" r="1.5" fill="#c8675c" stroke="#c8675c" stroke-width="0.5"/>
<circle cx="115.18" cy="295.41" r="1.5" fill="#c8675c" stroke="#c8675c" stroke-width="0.5"/>
<circle cx="124.42" cy="295.41" r="1.5" fill="#c8675c" stroke="#c8675c" stroke-width="0.5"/>
<line x1="96.70" y1="292.91" x2="96.70" y2="296.91" stroke="#d0766a" stroke-width="0.6"/>
<line x1="95.50" y1="292.91" x2="97.90" y2="292.91" stroke="#d0766a" stroke-width="0.6"/>
<line x1="95.50" y1="296.91" x2="97.90" y2="296.91" stroke="#d0766a" stroke-width="0.6"/>
<line x1="105.94" y1="293.91" x2="105.94" y2="296.41" stroke="#d0766a" stroke-width="0.5"/>
<line x1="104.94" y1="293.91" x2="106.94" y2="293.91" stroke="#d0766a" stroke-width="0.5"/>
<line x1="104.94" y1="296.41" x2="106.94" y2="296.41" stroke="#d0766a" stroke-width="0.5"/>
<line x1="141.30" y1="206.20" x2="152.30" y2="206.20" stroke="#111" stroke-width="0.8"/>
<rect x="145.30" y="204.70" width="3.0" height="3.0" fill="#000" stroke="#000" stroke-width="0.5"/>
<text x="157.80" y="209.50" font-size="9.4" text-anchor="start" fill="#333">Fya+/b+</text>
<line x1="141.30" y1="217.50" x2="152.30" y2="217.50" stroke="#111" stroke-width="0.8"/>
<circle cx="146.80" cy="217.50" r="1.6" fill="#000" stroke="#000" stroke-width="0.5"/>
<text x="157.80" y="220.80" font-size="9.4" text-anchor="start" fill="#333">Fya+/a+</text>
<line x1="141.30" y1="228.80" x2="152.30" y2="228.80" stroke="#111" stroke-width="0.8"/>
<polygon points="146.80,227.29 145.40,229.81 148.20,229.81" fill="#000"/>
<text x="157.80" y="232.10" font-size="9.4" text-anchor="start" fill="#333">Fya+/b+<tspan font-size="5.6" dy="-2.6" fill="#777" stroke="#777">weak</tspan></text>
<line x1="141.30" y1="240.00" x2="152.30" y2="240.00" stroke="#111" stroke-width="0.8"/>
<polygon points="146.80,241.51 145.40,238.99 148.20,238.99" fill="#000"/>
<text x="157.80" y="243.30" font-size="9.4" text-anchor="start" fill="#333">Fyb+/b+</text>
<line x1="141.30" y1="251.30" x2="152.30" y2="251.30" stroke="#a8c09c" stroke-width="0.8"/>
<rect x="145.60" y="250.10" width="2.4" height="2.4" fill="#7a9a6a" stroke="#7a9a6a" stroke-width="0.5"/>
<text x="157.80" y="254.60" font-size="9.4" text-anchor="start" fill="#333">Fyb+<tspan font-size="5.6" dy="-2.6" fill="#777" stroke="#777">weak</tspan><tspan dy="2.6">/Fyb+</tspan><tspan font-size="5.6" dy="-2.6" fill="#777" stroke="#777">weak</tspan></text>
<line x1="141.30" y1="262.70" x2="152.30" y2="262.70" stroke="#8e9cca" stroke-width="0.8"/>
<circle cx="146.80" cy="262.70" r="1.2" fill="#5a6aa0" stroke="#5a6aa0" stroke-width="0.5"/>
<text x="157.80" y="266.00" font-size="9.4" text-anchor="start" fill="#333">Fyb+<tspan font-size="5.6" dy="-2.6" fill="#777" stroke="#777">weak</tspan><tspan dy="2.6">/Fyb-</tspan></text>
<line x1="141.30" y1="274.20" x2="152.30" y2="274.20" stroke="#e4aaa2" stroke-width="0.8"/>
<circle cx="146.80" cy="274.20" r="1.2" fill="#d08a80" stroke="#d08a80" stroke-width="0.5"/>
<text x="157.80" y="277.50" font-size="9.4" text-anchor="start" fill="#333">Fya-/b-</text>
<text x="234.90" y="192.90" font-size="13.3" text-anchor="start" fill="#333">D</text>
<line x1="268.20" y1="198.40" x2="268.20" y2="277.60" stroke="#444" stroke-width="0.9"/>
<line x1="266.00" y1="198.40" x2="268.20" y2="198.40" stroke="#444" stroke-width="0.9"/>
<text x="264.70" y="201.60" font-size="9" text-anchor="end" fill="#333">100</text>
<line x1="266.00" y1="238.00" x2="268.20" y2="238.00" stroke="#444" stroke-width="0.9"/>
<text x="264.70" y="241.20" font-size="9" text-anchor="end" fill="#333">10</text>
<line x1="266.00" y1="277.60" x2="268.20" y2="277.60" stroke="#444" stroke-width="0.9"/>
<text x="264.70" y="280.80" font-size="9" text-anchor="end" fill="#333">1</text>
<line x1="266.90" y1="265.68" x2="268.20" y2="265.68" stroke="#444" stroke-width="0.8"/>
<line x1="266.90" y1="258.71" x2="268.20" y2="258.71" stroke="#444" stroke-width="0.8"/>
<line x1="266.90" y1="253.76" x2="268.20" y2="253.76" stroke="#444" stroke-width="0.8"/>
<line x1="266.90" y1="249.92" x2="268.20" y2="249.92" stroke="#444" stroke-width="0.8"/>
<line x1="266.90" y1="246.79" x2="268.20" y2="246.79" stroke="#444" stroke-width="0.8"/>
<line x1="266.90" y1="244.13" x2="268.20" y2="244.13" stroke="#444" stroke-width="0.8"/>
<line x1="266.90" y1="241.84" x2="268.20" y2="241.84" stroke="#444" stroke-width="0.8"/>
<line x1="266.90" y1="239.81" x2="268.20" y2="239.81" stroke="#444" stroke-width="0.8"/>
<line x1="266.90" y1="226.08" x2="268.20" y2="226.08" stroke="#444" stroke-width="0.8"/>
<line x1="266.90" y1="219.11" x2="268.20" y2="219.11" stroke="#444" stroke-width="0.8"/>
<line x1="266.90" y1="214.16" x2="268.20" y2="214.16" stroke="#444" stroke-width="0.8"/>
<line x1="266.90" y1="210.32" x2="268.20" y2="210.32" stroke="#444" stroke-width="0.8"/>
<line x1="266.90" y1="207.19" x2="268.20" y2="207.19" stroke="#444" stroke-width="0.8"/>
<line x1="266.90" y1="204.53" x2="268.20" y2="204.53" stroke="#444" stroke-width="0.8"/>
<line x1="266.90" y1="202.24" x2="268.20" y2="202.24" stroke="#444" stroke-width="0.8"/>
<line x1="266.90" y1="200.21" x2="268.20" y2="200.21" stroke="#444" stroke-width="0.8"/>
<line x1="268.20" y1="286.30" x2="268.20" y2="294.90" stroke="#444" stroke-width="0.9"/>
<line x1="266.90" y1="286.30" x2="268.20" y2="286.30" stroke="#444" stroke-width="0.8"/>
<line x1="268.20" y1="294.90" x2="277.20" y2="294.90" stroke="#444" stroke-width="0.9"/>
<line x1="277.20" y1="293.70" x2="277.20" y2="296.10" stroke="#444" stroke-width="0.9"/>
<line x1="286.00" y1="294.90" x2="366.40" y2="294.90" stroke="#444" stroke-width="0.9"/>
<line x1="286.00" y1="293.60" x2="286.00" y2="296.20" stroke="#444" stroke-width="0.9"/>
<line x1="286.00" y1="294.90" x2="286.00" y2="297.10" stroke="#444" stroke-width="0.8"/>
<line x1="294.07" y1="294.90" x2="294.07" y2="296.20" stroke="#444" stroke-width="0.8"/>
<line x1="298.79" y1="294.90" x2="298.79" y2="296.20" stroke="#444" stroke-width="0.8"/>
<line x1="302.14" y1="294.90" x2="302.14" y2="296.20" stroke="#444" stroke-width="0.8"/>
<line x1="304.73" y1="294.90" x2="304.73" y2="296.20" stroke="#444" stroke-width="0.8"/>
<line x1="306.85" y1="294.90" x2="306.85" y2="296.20" stroke="#444" stroke-width="0.8"/>
<line x1="308.65" y1="294.90" x2="308.65" y2="296.20" stroke="#444" stroke-width="0.8"/>
<line x1="310.20" y1="294.90" x2="310.20" y2="296.20" stroke="#444" stroke-width="0.8"/>
<line x1="311.57" y1="294.90" x2="311.57" y2="296.20" stroke="#444" stroke-width="0.8"/>
<line x1="312.80" y1="294.90" x2="312.80" y2="297.10" stroke="#444" stroke-width="0.8"/>
<line x1="320.87" y1="294.90" x2="320.87" y2="296.20" stroke="#444" stroke-width="0.8"/>
<line x1="325.59" y1="294.90" x2="325.59" y2="296.20" stroke="#444" stroke-width="0.8"/>
<line x1="328.94" y1="294.90" x2="328.94" y2="296.20" stroke="#444" stroke-width="0.8"/>
<line x1="331.53" y1="294.90" x2="331.53" y2="296.20" stroke="#444" stroke-width="0.8"/>
<line x1="333.65" y1="294.90" x2="333.65" y2="296.20" stroke="#444" stroke-width="0.8"/>
<line x1="335.45" y1="294.90" x2="335.45" y2="296.20" stroke="#444" stroke-width="0.8"/>
<line x1="337.00" y1="294.90" x2="337.00" y2="296.20" stroke="#444" stroke-width="0.8"/>
<line x1="338.37" y1="294.90" x2="338.37" y2="296.20" stroke="#444" stroke-width="0.8"/>
<line x1="339.60" y1="294.90" x2="339.60" y2="297.10" stroke="#444" stroke-width="0.8"/>
<line x1="347.67" y1="294.90" x2="347.67" y2="296.20" stroke="#444" stroke-width="0.8"/>
<line x1="352.39" y1="294.90" x2="352.39" y2="296.20" stroke="#444" stroke-width="0.8"/>
<line x1="355.74" y1="294.90" x2="355.74" y2="296.20" stroke="#444" stroke-width="0.8"/>
<line x1="358.33" y1="294.90" x2="358.33" y2="296.20" stroke="#444" stroke-width="0.8"/>
<line x1="360.45" y1="294.90" x2="360.45" y2="296.20" stroke="#444" stroke-width="0.8"/>
<line x1="362.25" y1="294.90" x2="362.25" y2="296.20" stroke="#444" stroke-width="0.8"/>
<line x1="363.80" y1="294.90" x2="363.80" y2="296.20" stroke="#444" stroke-width="0.8"/>
<line x1="365.17" y1="294.90" x2="365.17" y2="296.20" stroke="#444" stroke-width="0.8"/>
<line x1="366.40" y1="294.90" x2="366.40" y2="297.10" stroke="#444" stroke-width="0.8"/>
<text x="288.40" y="308.20" font-size="9" text-anchor="end" fill="#333">10</text>
<text x="288.60" y="304.20" font-size="5.6" text-anchor="start" fill="#333">1</text>
<text x="315.20" y="308.20" font-size="9" text-anchor="end" fill="#333">10</text>
<text x="315.40" y="304.20" font-size="5.6" text-anchor="start" fill="#333">2</text>
<text x="342.00" y="308.20" font-size="9" text-anchor="end" fill="#333">10</text>
<text x="342.20" y="304.20" font-size="5.6" text-anchor="start" fill="#333">3</text>
<text x="368.80" y="308.20" font-size="9" text-anchor="end" fill="#333">10</text>
<text x="369.00" y="304.20" font-size="5.6" text-anchor="start" fill="#333">4</text>
<text x="292.20" y="323.20" font-size="9.4" text-anchor="start" fill="#333">Receptor Number</text>
<text x="244.3" y="246.1" font-size="9.3" text-anchor="middle" fill="#333" transform="rotate(-90 244.3 246.1)">EC<tspan font-size="5.5" dy="2">50</tspan><tspan dy="-2"> HlgAB (nM)</tspan></text>
<polyline points="307.10,201.20 320.00,227.70 349.40,261.20" fill="none" stroke="#3d4672" stroke-width="1.0" stroke-dasharray="1.5,1.4"/>
<line x1="349.40" y1="254.60" x2="349.40" y2="272.50" stroke="#333" stroke-width="0.8"/>
<line x1="347.20" y1="254.60" x2="351.60" y2="254.60" stroke="#333" stroke-width="0.8"/>
<line x1="347.20" y1="272.50" x2="351.60" y2="272.50" stroke="#333" stroke-width="0.8"/>
<line x1="320.00" y1="224.30" x2="320.00" y2="231.30" stroke="#8a9a60" stroke-width="0.7"/>
<line x1="318.40" y1="224.30" x2="321.60" y2="224.30" stroke="#8a9a60" stroke-width="0.7"/>
<line x1="318.40" y1="231.30" x2="321.60" y2="231.30" stroke="#8a9a60" stroke-width="0.7"/>
<circle cx="307.10" cy="201.20" r="1.35" fill="#4a4a88" stroke="#4a4a88" stroke-width="0.5"/>
<polygon points="320.00,225.96 318.20,229.20 321.80,229.20" fill="#7f8f50"/>
<circle cx="349.40" cy="261.20" r="2.1" fill="#000" stroke="#000" stroke-width="0.5"/>
<text x="375.20" y="192.90" font-size="13.3" text-anchor="start" fill="#333">E</text>
<line x1="406.30" y1="198.40" x2="406.30" y2="296.50" stroke="#444" stroke-width="0.9"/>
<line x1="404.10" y1="296.50" x2="406.30" y2="296.50" stroke="#444" stroke-width="0.9"/>
<text x="403.30" y="300.20" font-size="9" text-anchor="end" fill="#333">0</text>
<line x1="404.10" y1="276.88" x2="406.30" y2="276.88" stroke="#444" stroke-width="0.9"/>
<text x="403.30" y="280.58" font-size="9" text-anchor="end" fill="#333">20</text>
<line x1="404.10" y1="257.26" x2="406.30" y2="257.26" stroke="#444" stroke-width="0.9"/>
<text x="403.30" y="260.96" font-size="9" text-anchor="end" fill="#333">40</text>
<line x1="404.10" y1="237.64" x2="406.30" y2="237.64" stroke="#444" stroke-width="0.9"/>
<text x="403.30" y="241.34" font-size="9" text-anchor="end" fill="#333">60</text>
<line x1="404.10" y1="218.02" x2="406.30" y2="218.02" stroke="#444" stroke-width="0.9"/>
<text x="403.30" y="221.72" font-size="9" text-anchor="end" fill="#333">80</text>
<line x1="404.10" y1="198.40" x2="406.30" y2="198.40" stroke="#444" stroke-width="0.9"/>
<text x="403.30" y="202.10" font-size="9" text-anchor="end" fill="#333">100</text>
<line x1="406.30" y1="296.50" x2="415.70" y2="296.50" stroke="#444" stroke-width="0.9"/>
<line x1="415.70" y1="295.30" x2="415.70" y2="297.70" stroke="#444" stroke-width="0.9"/>
<line x1="423.48" y1="296.50" x2="503.70" y2="296.50" stroke="#444" stroke-width="0.9"/>
<line x1="423.48" y1="295.30" x2="423.48" y2="297.70" stroke="#444" stroke-width="0.9"/>
<line x1="423.48" y1="296.50" x2="423.48" y2="297.80" stroke="#444" stroke-width="0.8"/>
<line x1="425.41" y1="296.50" x2="425.41" y2="297.80" stroke="#444" stroke-width="0.8"/>
<line x1="427.04" y1="296.50" x2="427.04" y2="297.80" stroke="#444" stroke-width="0.8"/>
<line x1="428.45" y1="296.50" x2="428.45" y2="297.80" stroke="#444" stroke-width="0.8"/>
<line x1="429.69" y1="296.50" x2="429.69" y2="297.80" stroke="#444" stroke-width="0.8"/>
<line x1="430.80" y1="296.50" x2="430.80" y2="298.70" stroke="#444" stroke-width="0.8"/>
<line x1="438.12" y1="296.50" x2="438.12" y2="297.80" stroke="#444" stroke-width="0.8"/>
<line x1="442.39" y1="296.50" x2="442.39" y2="297.80" stroke="#444" stroke-width="0.8"/>
<line x1="445.43" y1="296.50" x2="445.43" y2="297.80" stroke="#444" stroke-width="0.8"/>
<line x1="447.78" y1="296.50" x2="447.78" y2="297.80" stroke="#444" stroke-width="0.8"/>
<line x1="449.71" y1="296.50" x2="449.71" y2="297.80" stroke="#444" stroke-width="0.8"/>
<line x1="451.34" y1="296.50" x2="451.34" y2="297.80" stroke="#444" stroke-width="0.8"/>
<line x1="452.75" y1="296.50" x2="452.75" y2="297.80" stroke="#444" stroke-width="0.8"/>
<line x1="453.99" y1="296.50" x2="453.99" y2="297.80" stroke="#444" stroke-width="0.8"/>
<line x1="455.10" y1="296.50" x2="455.10" y2="298.70" stroke="#444" stroke-width="0.8"/>
<line x1="462.42" y1="296.50" x2="462.42" y2="297.80" stroke="#444" stroke-width="0.8"/>
<line x1="466.69" y1="296.50" x2="466.69" y2="297.80" stroke="#444" stroke-width="0.8"/>
<line x1="469.73" y1="296.50" x2="469.73" y2="297.80" stroke="#444" stroke-width="0.8"/>
<line x1="472.08" y1="296.50" x2="472.08" y2="297.80" stroke="#444" stroke-width="0.8"/>
<line x1="474.01" y1="296.50" x2="474.01" y2="297.80" stroke="#444" stroke-width="0.8"/>
<line x1="475.64" y1="296.50" x2="475.64" y2="297.80" stroke="#444" stroke-width="0.8"/>
<line x1="477.05" y1="296.50" x2="477.05" y2="297.80" stroke="#444" stroke-width="0.8"/>
<line x1="478.29" y1="296.50" x2="478.29" y2="297.80" stroke="#444" stroke-width="0.8"/>
<line x1="479.40" y1="296.50" x2="479.40" y2="298.70" stroke="#444" stroke-width="0.8"/>
<line x1="486.72" y1="296.50" x2="486.72" y2="297.80" stroke="#444" stroke-width="0.8"/>
<line x1="490.99" y1="296.50" x2="490.99" y2="297.80" stroke="#444" stroke-width="0.8"/>
<line x1="494.03" y1="296.50" x2="494.03" y2="297.80" stroke="#444" stroke-width="0.8"/>
<line x1="496.38" y1="296.50" x2="496.38" y2="297.80" stroke="#444" stroke-width="0.8"/>
<line x1="498.31" y1="296.50" x2="498.31" y2="297.80" stroke="#444" stroke-width="0.8"/>
<line x1="499.94" y1="296.50" x2="499.94" y2="297.80" stroke="#444" stroke-width="0.8"/>
<line x1="501.35" y1="296.50" x2="501.35" y2="297.80" stroke="#444" stroke-width="0.8"/>
<line x1="502.59" y1="296.50" x2="502.59" y2="297.80" stroke="#444" stroke-width="0.8"/>
<line x1="503.70" y1="296.50" x2="503.70" y2="298.70" stroke="#444" stroke-width="0.8"/>
<text x="430.80" y="308.30" font-size="9" text-anchor="middle" fill="#333">1</text>
<text x="455.10" y="308.30" font-size="9" text-anchor="middle" fill="#333">10</text>
<text x="479.40" y="308.30" font-size="9" text-anchor="middle" fill="#333">100</text>
<text x="503.70" y="308.30" font-size="9" text-anchor="middle" fill="#333">1000</text>
<text x="408.80" y="324.60" font-size="9.4" text-anchor="start" fill="#333">Concentration LukED (nM)</text>
<text x="383.20" y="244.00" font-size="9.3" text-anchor="middle" fill="#333" transform="rotate(-90 383.20 244.00)">% Hemolysis</text>
<line x1="406.30" y1="247.70" x2="500.00" y2="247.70" stroke="#333" stroke-width="0.8" stroke-dasharray="2.35,1.7"/>
<line x1="455.10" y1="274.92" x2="455.10" y2="291.60" stroke="#333" stroke-width="0.6"/>
<line x1="453.50" y1="274.92" x2="456.70" y2="274.92" stroke="#333" stroke-width="0.6"/>
<line x1="453.50" y1="291.60" x2="456.70" y2="291.60" stroke="#333" stroke-width="0.6"/>
<line x1="462.42" y1="254.32" x2="462.42" y2="271.98" stroke="#333" stroke-width="0.6"/>
<line x1="460.82" y1="254.32" x2="464.02" y2="254.32" stroke="#333" stroke-width="0.6"/>
<line x1="460.82" y1="271.98" x2="464.02" y2="271.98" stroke="#333" stroke-width="0.6"/>
<line x1="469.73" y1="219.00" x2="469.73" y2="253.34" stroke="#333" stroke-width="0.6"/>
<line x1="468.13" y1="219.00" x2="471.33" y2="219.00" stroke="#333" stroke-width="0.6"/>
<line x1="468.13" y1="253.34" x2="471.33" y2="253.34" stroke="#333" stroke-width="0.6"/>
<line x1="477.05" y1="211.15" x2="477.05" y2="227.83" stroke="#333" stroke-width="0.6"/>
<line x1="475.45" y1="211.15" x2="478.65" y2="211.15" stroke="#333" stroke-width="0.6"/>
<line x1="475.45" y1="227.83" x2="478.65" y2="227.83" stroke="#333" stroke-width="0.6"/>
<line x1="484.36" y1="200.85" x2="484.36" y2="227.83" stroke="#333" stroke-width="0.6"/>
<line x1="482.76" y1="200.85" x2="485.96" y2="200.85" stroke="#333" stroke-width="0.6"/>
<line x1="482.76" y1="227.83" x2="485.96" y2="227.83" stroke="#333" stroke-width="0.6"/>
<polyline points="455.10,294.54 462.42,294.54 469.73,294.54 477.05,294.54 484.36,294.54 491.68,294.54" fill="none" stroke="#e8a8a8" stroke-width="1.0"/>
<line x1="455.10" y1="292.94" x2="455.10" y2="296.14" stroke="#eebbbb" stroke-width="0.5"/>
<line x1="453.90" y1="292.94" x2="456.30" y2="292.94" stroke="#eebbbb" stroke-width="0.5"/>
<line x1="453.90" y1="296.14" x2="456.30" y2="296.14" stroke="#eebbbb" stroke-width="0.5"/>
<line x1="462.42" y1="292.94" x2="462.42" y2="296.14" stroke="#eebbbb" stroke-width="0.5"/>
<line x1="461.22" y1="292.94" x2="463.62" y2="292.94" stroke="#eebbbb" stroke-width="0.5"/>
<line x1="461.22" y1="296.14" x2="463.62" y2="296.14" stroke="#eebbbb" stroke-width="0.5"/>
<line x1="469.73" y1="292.94" x2="469.73" y2="296.14" stroke="#eebbbb" stroke-width="0.5"/>
<line x1="468.53" y1="292.94" x2="470.93" y2="292.94" stroke="#eebbbb" stroke-width="0.5"/>
<line x1="468.53" y1="296.14" x2="470.93" y2="296.14" stroke="#eebbbb" stroke-width="0.5"/>
<line x1="477.05" y1="292.94" x2="477.05" y2="296.14" stroke="#eebbbb" stroke-width="0.5"/>
<line x1="475.85" y1="292.94" x2="478.25" y2="292.94" stroke="#eebbbb" stroke-width="0.5"/>
<line x1="475.85" y1="296.14" x2="478.25" y2="296.14" stroke="#eebbbb" stroke-width="0.5"/>
<line x1="484.36" y1="292.94" x2="484.36" y2="296.14" stroke="#eebbbb" stroke-width="0.5"/>
<line x1="483.16" y1="292.94" x2="485.56" y2="292.94" stroke="#eebbbb" stroke-width="0.5"/>
<line x1="483.16" y1="296.14" x2="485.56" y2="296.14" stroke="#eebbbb" stroke-width="0.5"/>
<line x1="491.68" y1="292.94" x2="491.68" y2="296.14" stroke="#eebbbb" stroke-width="0.5"/>
<line x1="490.48" y1="292.94" x2="492.88" y2="292.94" stroke="#eebbbb" stroke-width="0.5"/>
<line x1="490.48" y1="296.14" x2="492.88" y2="296.14" stroke="#eebbbb" stroke-width="0.5"/>
<polygon points="455.10,292.76 453.45,295.73 456.75,295.73" fill="#c46a6a"/>
<polygon points="462.42,292.76 460.77,295.73 464.07,295.73" fill="#c46a6a"/>
<polygon points="469.73,292.76 468.08,295.73 471.38,295.73" fill="#c46a6a"/>
<polygon points="477.05,292.76 475.40,295.73 478.70,295.73" fill="#c46a6a"/>
<polygon points="484.36,292.76 482.71,295.73 486.01,295.73" fill="#c46a6a"/>
<polygon points="491.68,292.76 490.03,295.73 493.33,295.73" fill="#c46a6a"/>
<polyline points="455.10,284.73 462.42,262.17 469.73,237.64 477.05,220.96 484.36,205.27 491.68,198.40" fill="none" stroke="#111" stroke-width="0.8"/>
<polyline points="455.10,282.77 462.42,268.05 469.73,249.41 477.05,223.91 484.36,214.10 491.68,198.40" fill="none" stroke="#111" stroke-width="0.8"/>
<polyline points="455.10,286.69 462.42,265.11 469.73,245.49 477.05,226.85 484.36,208.21 491.68,199.38" fill="none" stroke="#111" stroke-width="0.8"/>
<rect x="453.40" y="283.03" width="3.4" height="3.4" fill="#000" stroke="#000" stroke-width="0.5"/>
<rect x="460.72" y="260.47" width="3.4" height="3.4" fill="#000" stroke="#000" stroke-width="0.5"/>
<rect x="468.03" y="235.94" width="3.4" height="3.4" fill="#000" stroke="#000" stroke-width="0.5"/>
<rect x="475.35" y="219.26" width="3.4" height="3.4" fill="#000" stroke="#000" stroke-width="0.5"/>
<rect x="482.66" y="203.57" width="3.4" height="3.4" fill="#000" stroke="#000" stroke-width="0.5"/>
<rect x="489.98" y="196.70" width="3.4" height="3.4" fill="#000" stroke="#000" stroke-width="0.5"/>
<circle cx="455.10" cy="282.77" r="1.9" fill="#000" stroke="#000" stroke-width="0.5"/>
<circle cx="462.42" cy="268.05" r="1.9" fill="#000" stroke="#000" stroke-width="0.5"/>
<circle cx="469.73" cy="249.41" r="1.9" fill="#000" stroke="#000" stroke-width="0.5"/>
<circle cx="477.05" cy="223.91" r="1.9" fill="#000" stroke="#000" stroke-width="0.5"/>
<circle cx="484.36" cy="214.10" r="1.9" fill="#000" stroke="#000" stroke-width="0.5"/>
<circle cx="491.68" cy="198.40" r="1.9" fill="#000" stroke="#000" stroke-width="0.5"/>
<polygon points="455.10,288.53 453.40,285.47 456.80,285.47" fill="#000"/>
<polygon points="462.42,266.94 460.72,263.88 464.12,263.88" fill="#000"/>
<polygon points="469.73,247.32 468.03,244.26 471.43,244.26" fill="#000"/>
<polygon points="477.05,228.69 475.35,225.62 478.75,225.62" fill="#000"/>
<polygon points="484.36,210.05 482.66,206.99 486.06,206.99" fill="#000"/>
<polygon points="491.68,201.22 489.98,198.16 493.38,198.16" fill="#000"/>
<line x1="409.60" y1="204.70" x2="421.20" y2="204.70" stroke="#111" stroke-width="0.8"/>
<circle cx="415.80" cy="204.70" r="1.9" fill="#000" stroke="#000" stroke-width="0.5"/>
<text x="426.80" y="208.00" font-size="9.4" text-anchor="start" fill="#333">Fya+/b+</text>
<line x1="409.60" y1="216.00" x2="421.20" y2="216.00" stroke="#111" stroke-width="0.8"/>
<circle cx="415.80" cy="216.00" r="1.7" fill="#000" stroke="#000" stroke-width="0.5"/>
<text x="426.80" y="219.30" font-size="9.4" text-anchor="start" fill="#333">Fya+/a+</text>
<line x1="409.60" y1="227.30" x2="421.20" y2="227.30" stroke="#111" stroke-width="0.8"/>
<polygon points="415.80,228.81 414.40,226.29 417.20,226.29" fill="#000"/>
<text x="426.80" y="230.60" font-size="9.4" text-anchor="start" fill="#333">Fyb+/b+</text>
<line x1="409.60" y1="238.80" x2="421.20" y2="238.80" stroke="#e4aaa2" stroke-width="0.8"/>
<polygon points="415.80,237.40 414.50,239.74 417.10,239.74" fill="#d98c80"/>
<text x="426.80" y="242.10" font-size="9.4" text-anchor="start" fill="#333">Fya-/b-</text>
</svg>
</body></html>
